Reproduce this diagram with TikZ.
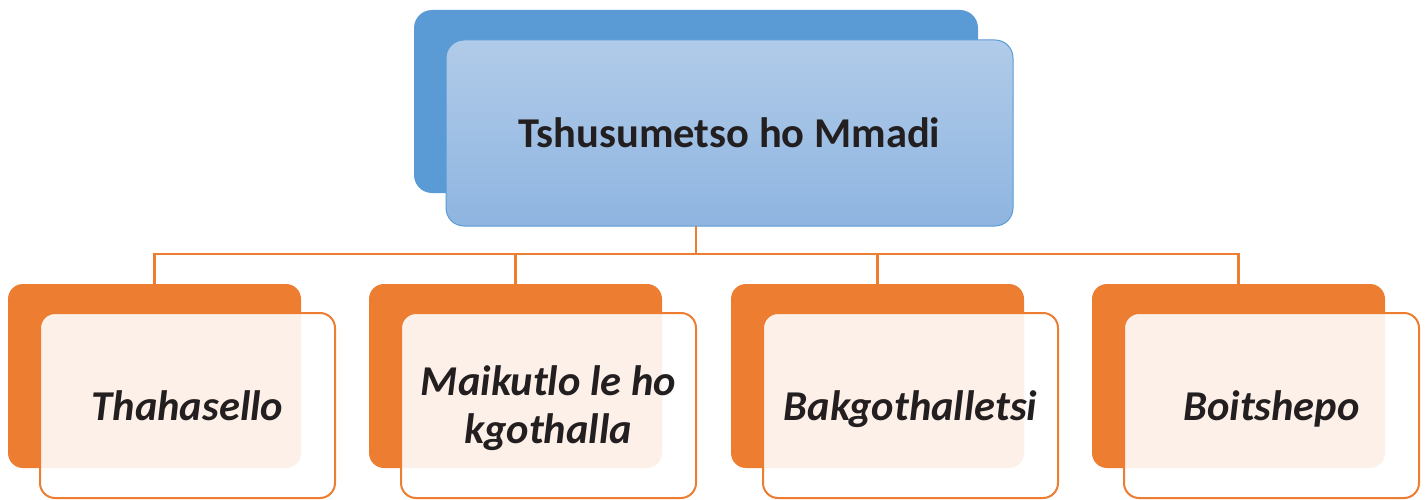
\documentclass[tikz,border=0pt]{standalone}
\usepackage{fontspec}
\setmainfont{Carlito}
\definecolor{obl}{HTML}{5B9BD5}
\definecolor{gtop}{RGB}{177,203,233}
\definecolor{gbot}{RGB}{142,181,224}
\definecolor{org}{HTML}{ED7D31}
\definecolor{txt}{HTML}{231F20}
\begin{document}
\begin{tikzpicture}[x=1pt,y=-1pt,
  box/.style={rectangle, inner sep=0pt, outer sep=0pt, anchor=north west},
  bback/.style={box, fill=obl, minimum width=564pt, minimum height=183pt, rounded corners=18pt},
  bfront/.style={box, top color=gtop, bottom color=gbot, draw=obl, line width=1pt,
    minimum width=567pt, minimum height=186pt, rounded corners=18pt,
    font=\fontsize{42.5}{48}\selectfont\bfseries, text=txt},
  oback/.style={box, fill=org, minimum width=293pt, minimum height=184pt, rounded corners=15pt},
  ofront/.style={box, fill=white, fill opacity=0.89, text opacity=1, draw=org, line width=2pt,
    minimum width=295pt, minimum height=185pt, rounded corners=15pt, align=center,
    font=\fontsize{42.5}{48}\selectfont\bfseries\itshape, text=txt},
  single/.style={text height=29pt, text depth=0pt},
  conn/.style={draw=org, line width=2.5pt}
]
\useasboundingbox (0,0) rectangle (1426,500);
\coordinate (bus) at (0,254);
% top
\node[bback] (tb) at (414,10) {};
\node[bfront, single] (tf) at (446,40) {Tshusumetso ho Mmadi};
% connectors
\coordinate (tj) at (tb.south |- tf.south);
% bottom back boxes
\node[oback] (b1) at (8,284) {};
\node[oback] (b2) at (369,284) {};
\node[oback] (b3) at (731,284) {};
\node[oback] (b4) at (1092,284) {};
\draw[conn] (tj) -- (tj |- bus);
\draw[conn] (b1.north) -- (b1.north |- bus) -- (b4.north |- bus) -- (b4.north);
\draw[conn] (b2.north) -- (b2.north |- bus);
\draw[conn] (b3.north) -- (b3.north |- bus);
% bottom front boxes
\node[ofront, single] (f1) at (40,313) {Thahasello};
\node[ofront, text depth=2pt] (f2) at (401,313) {Maikutlo le ho\\kgothalla};
\node[ofront, single] (f3) at (763,313) {Bakgothalletsi};
\node[ofront, single] (f4) at (1124,313) {Boitshepo};
\end{tikzpicture}
\end{document}
